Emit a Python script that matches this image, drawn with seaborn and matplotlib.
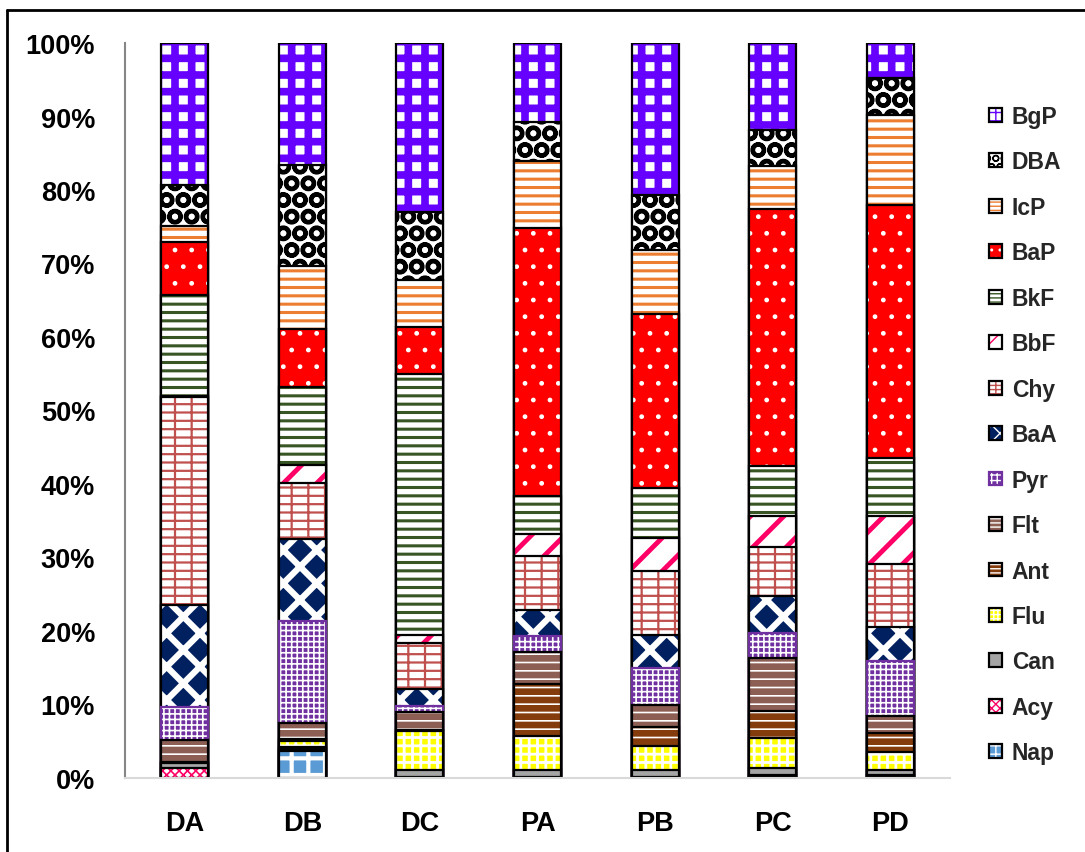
import numpy as np
import matplotlib
matplotlib.use("Agg")
import matplotlib.pyplot as plt
from matplotlib.patches import Patch
from matplotlib.legend_handler import HandlerTuple
from matplotlib.lines import Line2D
import seaborn as sns

sites = ["DA", "DB", "DC", "PA", "PB", "PC", "PD"]
compounds = ["Nap", "Acy", "Can", "Flu", "Ant", "Flt", "Pyr", "BaA",
             "Chy", "BbF", "BkF", "BaP", "IcP", "DBA", "BgP"]

# share (%) of each PAH at every site
Nap = [0.0, 3.7, 0.0, 0.0, 0.0, 0.1, 0.1]
Acy = [1.3, 0.3, 0.1, 0.1, 0.1, 0.3, 0.3]
Can = [0.7, 0.2, 1.0, 1.0, 1.0, 0.9, 0.7]
Flu = [0.1, 0.9, 5.3, 4.6, 3.3, 4.2, 2.4]
Ant = [0.1, 0.2, 0.1, 7.1, 2.6, 3.6, 2.6]
Flt = [3.0, 2.2, 2.5, 4.4, 3.0, 7.2, 2.3]
Pyr = [4.5, 13.8, 0.8, 2.1, 5.0, 3.4, 7.5]
BaA = [13.8, 11.2, 2.3, 3.6, 4.5, 5.1, 4.7]
Chy = [28.4, 7.7, 6.3, 7.3, 8.7, 6.6, 8.5]
BbF = [0.1, 2.4, 1.1, 3.0, 4.4, 4.2, 6.5]
BkF = [13.7, 10.6, 35.4, 5.1, 6.9, 6.9, 7.9]
BaP = [7.2, 7.9, 6.4, 36.5, 23.6, 34.9, 34.4]
IcP = [2.2, 8.5, 6.5, 9.1, 8.7, 5.9, 12.3]
DBA = [5.6, 13.8, 9.2, 5.4, 7.5, 4.8, 5.0]
BgP = [19.3, 16.6, 23.0, 10.7, 20.7, 11.9, 4.8]

series = [Nap, Acy, Can, Flu, Ant, Flt, Pyr, BaA, Chy, BbF, BkF, BaP, IcP, DBA, BgP]

# fill colour, hatch, hatch colour, hatch width, outline colour
styles = {
    "Nap": ("#5B9BD5", "+", "white", 3.0, "black"),
    "Acy": ("white", "xxxx", "#FF0066", 1.2, "black"),
    "Can": ("#A5A5A5", "", "#A5A5A5", 1.0, "black"),
    "Flu": ("#FFFF00", "++", "white", 2.0, "black"),
    "Ant": ("#843C0C", "--", "white", 1.2, "black"),
    "Flt": ("#8C5E54", "--", "white", 1.2, "black"),
    "Pyr": ("#7030A0", "+++", "white", 1.2, "#7030A0"),
    "BaA": ("#002060", "x", "white", 4.5, "black"),
    "Chy": ("white", "+-", "#C0504D", 1.6, "black"),
    "BbF": ("white", "/", "#FF0066", 3.5, "black"),
    "BkF": ("white", "--", "#375623", 2.2, "black"),
    "BaP": ("#FF0000", ".", "white", 1.0, "black"),
    "IcP": ("white", "--", "#ED7D31", 2.2, "black"),
    "DBA": ("white", "O", "black", 3.0, "black"),
    "BgP": ("white", "+", "#6600FF", 5.5, "black"),
}

sns.set_theme(style="white")
plt.rcParams["font.family"] = ["Liberation Sans", "DejaVu Sans"]
plt.rcParams["font.weight"] = "bold"

W, H = 1085, 853
fig = plt.figure(figsize=(W / 100, H / 100), dpi=100)
ax = fig.add_axes([125 / W, 74 / H, 825 / W, 735 / H])

OUTLINE_LW = 1.6
BAR_W = 0.4
cum = np.cumsum(np.array(series, dtype=float), axis=0)


def style_new(start, face, edge, lw, hatch="", hlw=None):
    for p in ax.patches[start:]:
        p.set_facecolor(face)
        p.set_edgecolor(edge)
        p.set_linewidth(lw)
        p.set_hatch(hatch if hatch else None)
        if hlw is not None and hasattr(p, "set_hatch_linewidth"):
            p.set_hatch_linewidth(hlw)
        if p.get_height() <= 0:
            p.set_visible(False)


# stacked shares: each cumulative layer is drawn over the one above it
for i in range(len(compounds) - 1, -1, -1):
    name = compounds[i]
    face, hatch, hcol, hlw, ocol = styles[name]
    with plt.rc_context({"hatch.linewidth": hlw}):
        n0 = len(ax.patches)
        sns.barplot(x=sites, y=cum[i], color=face, saturation=1, width=BAR_W,
                    errorbar=None, ax=ax)
        style_new(n0, face, hcol, 0, hatch, hlw)
    n0 = len(ax.patches)
    sns.barplot(x=sites, y=cum[i], color=ocol, fill=False, width=BAR_W,
                errorbar=None, ax=ax)
    style_new(n0, "none", ocol, OUTLINE_LW)

ax.set_xlim(-0.51, 6.51)
ax.set_ylim(0, 100)
ax.set_yticks(range(0, 101, 10))
ax.set_yticklabels([f"{v}%" for v in range(0, 101, 10)])
ax.set_xlabel("")
ax.set_ylabel("")
ax.tick_params(axis="y", length=0, pad=21.6, labelsize=19.5)
ax.tick_params(axis="x", length=0, pad=23, labelsize=19.5)
for lab in ax.get_xticklabels() + ax.get_yticklabels():
    lab.set_fontweight("bold")
    lab.set_color("black")
ax.grid(False)
for side in ("top", "right"):
    ax.spines[side].set_visible(False)
ax.spines["left"].set_color("#868686")
ax.spines["left"].set_linewidth(1.5)
ax.spines["bottom"].set_color("#D9D9D9")
ax.spines["bottom"].set_linewidth(1.5)

# legend, top entry first; swatches use a finer version of each pattern
handles, labels = [], []
for name in compounds[::-1]:
    face, hatch, hcol, hlw, ocol = styles[name]
    sw_hatch = (hatch * 2) if hatch and len(hatch) < 3 else hatch
    sw_lw = min(hlw * 0.6, 2.5)
    with plt.rc_context({"hatch.linewidth": sw_lw}):
        fill_p = Patch(facecolor=face, edgecolor=hcol, linewidth=0,
                       hatch=sw_hatch if sw_hatch else None)
    if hasattr(fill_p, "set_hatch_linewidth"):
        fill_p.set_hatch_linewidth(sw_lw)
    edge_p = Patch(facecolor="none", edgecolor=ocol, linewidth=OUTLINE_LW)
    handles.append((fill_p, edge_p))
    labels.append(name)

fig.legend(handles, labels, handler_map={tuple: HandlerTuple(ndivide=1)},
           loc="upper left", bbox_to_anchor=(989 / W, 1 - 106 / H),
           frameon=False, handlelength=0.55, handleheight=0.55,
           handletextpad=0.45, labelspacing=0.98, borderpad=0, borderaxespad=0,
           prop={"weight": "bold", "size": 16.5})

# frame around the figure
fig.add_artist(Line2D([7 / W, 7 / W], [0, 1 - 11 / H], color="black", lw=2,
                      transform=fig.transFigure))
fig.add_artist(Line2D([7 / W, 1], [1 - 11 / H, 1 - 11 / H], color="black", lw=2,
                      transform=fig.transFigure))

fig.savefig("out.png", dpi=100)
